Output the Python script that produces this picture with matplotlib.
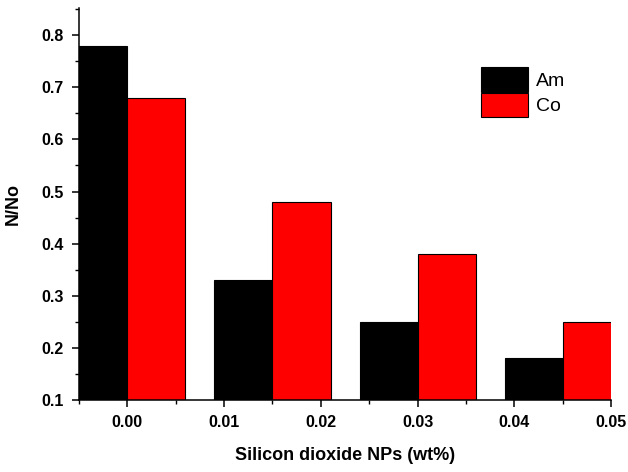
import numpy as np
import matplotlib
matplotlib.use("Agg")
import matplotlib.pyplot as plt
from matplotlib.ticker import MultipleLocator, FormatStrFormatter

plt.rcParams['font.family'] = ['Liberation Sans', 'DejaVu Sans']

# data
group_pos = [0.0, 0.015, 0.03, 0.045]
am_vals = [0.78, 0.33, 0.25, 0.18]
co_vals = [0.68, 0.48, 0.38, 0.25]
series_names = ["Am", "Co"]
width = 0.006

fig = plt.figure(figsize=(6.28, 4.72), dpi=100)
ax = fig.add_axes([0.1258, 0.1525, 0.973 - 0.1258, 0.983 - 0.1525])

x = np.array(group_pos)
ax.bar(x - width / 2, np.array(am_vals) - 0.1, width, bottom=0.1,
       color='black', edgecolor='black', linewidth=0.8, label=series_names[0])
ax.bar(x + width / 2, np.array(co_vals) - 0.1, width, bottom=0.1,
       color='#ff0000', edgecolor='black', linewidth=0.8, label=series_names[1])

ax.set_xlim(-0.005, 0.05)
ax.set_ylim(0.1, 0.852)

ax.xaxis.set_major_locator(MultipleLocator(0.01))
ax.xaxis.set_minor_locator(MultipleLocator(0.005))
ax.xaxis.set_major_formatter(FormatStrFormatter('%.2f'))
ax.yaxis.set_major_locator(MultipleLocator(0.1))
ax.yaxis.set_minor_locator(MultipleLocator(0.05))
ax.yaxis.set_major_formatter(FormatStrFormatter('%.1f'))

for s in ['top', 'right']:
    ax.spines[s].set_visible(False)
for s in ['left', 'bottom']:
    ax.spines[s].set_linewidth(1.1)

ax.tick_params(which='major', direction='out', length=5, width=1.1, labelsize=11.5, pad=6)
ax.tick_params(which='minor', direction='out', length=3, width=1.0)
for lab in ax.get_xticklabels() + ax.get_yticklabels():
    lab.set_fontweight('bold')

ax.set_xlabel('Silicon dioxide NPs (wt%)', fontsize=13, fontweight='bold', labelpad=12)
ax.set_ylabel('N/No', fontsize=13, fontweight='bold', labelpad=14)

ax.legend(loc='upper left', bbox_to_anchor=(0.756, 0.849), frameon=False,
          fontsize=14, borderpad=0, borderaxespad=0, handlelength=2.4,
          handleheight=1.55, handletextpad=0.4, labelspacing=0.05)

fig.savefig('out.png', dpi=100)
